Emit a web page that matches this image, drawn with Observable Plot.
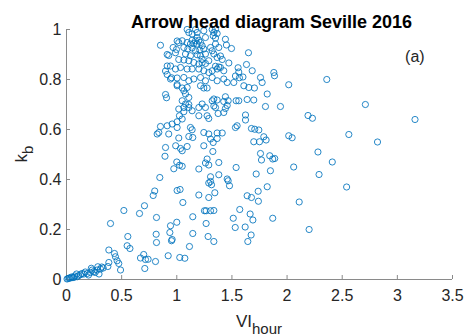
<!DOCTYPE html>
<html>
<head>
<meta charset="utf-8">
<script src="https://cdn.jsdelivr.net/npm/d3@7"></script>
<script src="https://cdn.jsdelivr.net/npm/@observablehq/plot@0.6"></script>
<style>
  html, body { margin: 0; padding: 0; background: #fff; }
  #chart { width: 466px; height: 336px; }
</style>
</head>
<body>
<div id="chart"></div>
<script>
// Hourly variability index (VI_hour) against the arrow-head parameter k_b, Seville 2016.
// Each group is a list of [VI_hour, k_b] pairs.
const originCluster = [
  [0.005,0.002],[0.015,0.004],[0.025,0.006],[0.036,0.006],[0.045,0.01],[0.055,0.008],[0.066,0.008],
  [0.075,0.014],[0.091,0.022],[0.097,0.011],[0.11,0.016],[0.127,0.019],[0.14,0.024],[0.157,0.022],
  [0.17,0.03],[0.188,0.024],[0.2,0.018],[0.218,0.028],[0.225,0.045],[0.233,0.038],[0.248,0.032],
  [0.26,0.028],[0.278,0.038],[0.284,0.051],[0.295,0.022],[0.308,0.042],[0.32,0.05],[0.333,0.046],
  [0.375,0.052],[0.384,0.068],[0.384,0.118],[0.435,0.104],[0.444,0.091],[0.459,0.075],[0.474,0.064],
  [0.49,0.038]
];

const lowBand = [
  [0.399,0.224],[0.52,0.276],[0.556,0.172],[0.55,0.135],[0.575,0.124],[0.662,0.264],[0.707,0.295],
  [0.671,0.086],[0.70,0.10],[0.716,0.08],[0.74,0.081],[0.71,0.044],[0.807,0.072],[0.816,0.248],
  [0.813,0.181],[0.816,0.148],[0.786,0.336],[0.80,0.354],[0.922,0.095],[0.943,0.215],[0.937,0.188],
  [0.952,0.155],[0.958,0.16],[1.0,0.229],[1.027,0.088],[1.073,0.085],[1.003,0.356],[1.03,0.36],
  [1.055,0.308],[1.115,0.132],[1.145,0.184],[1.145,0.251],[1.2,0.338],[1.251,0.275],[1.266,0.275],
  [1.306,0.275],[1.336,0.276],[1.29,0.328],[1.266,0.224],[1.284,0.172],[1.336,0.152],[1.345,0.347],
  [1.29,0.386],[1.315,0.379],[1.478,0.375],[1.466,0.395],[1.512,0.245],[1.53,0.208],[1.571,0.28],
  [1.62,0.21],[1.638,0.335],[1.665,0.262],[1.69,0.238],[1.674,0.178],[1.644,0.152],[1.677,0.328],
  [1.74,0.313],[1.738,0.353],[1.82,0.371],[1.87,0.245],[2.11,0.31],[2.2,0.2],[2.54,0.37]
];

const midBand = [
  [0.846,0.408],[0.822,0.582],[0.837,0.588],[0.852,0.612],[0.893,0.493],[0.898,0.528],[0.913,0.615],
  [0.927,0.582],[0.958,0.622],[0.973,0.443],[0.99,0.535],[1.0,0.47],[1.003,0.608],[1.003,0.631],
  [1.018,0.566],[1.018,0.682],[1.024,0.655],[1.025,0.457],[1.034,0.524],[1.049,0.453],[1.049,0.515],
  [1.049,0.642],[1.064,0.671],[1.094,0.532],[1.109,0.572],[1.109,0.688],[1.124,0.608],[1.139,0.599],
  [1.139,0.675],[1.145,0.568],[1.2,0.442],[1.2,0.655],[1.2,0.688],[1.245,0.535],[1.245,0.588],
  [1.26,0.466],[1.26,0.688],[1.275,0.482],[1.275,0.655],[1.29,0.458],[1.29,0.582],[1.29,0.644],
  [1.306,0.392],[1.306,0.411],[1.306,0.562],[1.327,0.512],[1.33,0.548],[1.351,0.688],[1.366,0.564],
  [1.366,0.586],[1.375,0.664],[1.381,0.419],[1.381,0.468],[1.412,0.586],[1.426,0.668],[1.441,0.684],
  [1.457,0.402],[1.532,0.608],[1.538,0.448],[1.547,0.615],[1.623,0.638],[1.623,0.658],[1.677,0.604],
  [1.698,0.551],[1.707,0.601],[1.72,0.422],[1.744,0.598],[1.75,0.551],[1.759,0.504],[1.768,0.478],
  [1.789,0.571],[1.804,0.692],[1.81,0.558],[1.843,0.495],[1.849,0.435],[1.87,0.482],[1.888,0.484],
  [1.94,0.692],[2.015,0.575],[2.046,0.567],[2.06,0.45],[1.109,0.70],[1.064,0.688],[1.079,0.702],
  [1.23,0.702],[1.336,0.694],[1.457,0.696]
];

const upperCluster = [
  [0.852,0.937],[0.913,0.9],[0.927,0.896],[0.967,0.928],[1.003,0.954],[0.997,0.92],[0.988,0.907],
  [0.943,0.854],[0.913,0.854],[0.898,0.834],[0.913,0.82],[0.952,0.807],[0.988,0.842],[1.003,0.78],
  [0.898,0.74],[0.907,0.727],[1.018,0.88],[1.018,0.948],[1.049,0.955],[1.094,1.0],[1.109,0.988],
  [1.139,0.982],[1.17,1.0],[1.185,0.988],[1.245,0.995],[1.321,1.0],[1.351,1.0],[1.336,0.988],
  [1.366,0.984],[1.33,0.975],[1.351,0.966],[1.26,0.968],[1.185,0.968],[1.139,0.957],[1.17,0.955],
  [1.2,0.957],[1.094,0.948],[1.124,0.942],[1.154,0.944],[1.185,0.942],[1.215,0.948],[1.23,0.935],
  [1.064,0.928],[1.1,0.922],[1.139,0.926],[1.17,0.915],[1.209,0.918],[1.245,0.922],[1.079,0.902],
  [1.124,0.895],[1.185,0.899],[1.215,0.895],[1.26,0.902],[1.351,0.942],[1.381,0.928],[1.441,0.961],
  [1.45,0.938],[1.496,0.924],[1.306,0.928],[1.321,0.915],[1.336,0.902],[1.366,0.888],[1.396,0.894],
  [1.412,0.88],[1.65,0.907],[1.064,0.878],[1.109,0.875],[1.154,0.868],[1.2,0.862],[1.23,0.88],
  [1.23,0.867],[1.26,0.864],[1.29,0.875],[1.351,0.853],[1.381,0.85],[1.472,0.866],[1.632,0.86],
  [1.684,0.835],[1.034,0.848],[1.094,0.842],[1.139,0.842],[1.2,0.842],[1.245,0.835],[1.29,0.828],
  [1.321,0.835],[1.366,0.842],[1.396,0.848],[1.426,0.835],[1.556,0.847],[1.562,0.83],[1.88,0.828],
  [1.886,0.815],[0.943,0.802],[1.003,0.806],[1.064,0.808],[1.109,0.795],[1.154,0.802],[1.215,0.808],
  [1.26,0.795],[1.321,0.808],[1.366,0.795],[1.426,0.802],[1.457,0.788],[1.517,0.788],[1.532,0.814],
  [1.568,0.807],[1.6,0.81],[1.608,0.775],[1.653,0.768],[1.704,0.766],[1.759,0.808],[1.774,0.788],
  [2.015,0.779],[1.003,0.775],[1.049,0.766],[1.094,0.768],[1.215,0.775],[1.245,0.766],[1.275,0.766],
  [1.064,0.755],[1.079,0.742],[1.109,0.728],[1.321,0.715],[1.336,0.722],[1.366,0.718],[1.426,0.712],
  [1.049,0.715],[1.82,0.742],[1.538,0.715],[1.562,0.715],[1.441,0.731],[1.466,0.715],[1.638,0.72],
  [1.698,0.718]
];

const outliers = [
  [2.19,0.656],[2.23,0.645],[2.36,0.80],[2.71,0.70],[3.16,0.64],[2.56,0.58],[2.82,0.55],
  [2.28,0.51],[2.41,0.47],[2.29,0.42]
];

const xTicks = [0, 0.5, 1, 1.5, 2, 2.5, 3, 3.5];
const xTickLabels = ["0", "0.5", "1", "1.5", "2", "2.5", "3", "3.5"];
const yTicks = [0, 0.2, 0.4, 0.6, 0.8, 1];
const yTickLabels = ["0", "0.2", "0.4", "0.6", "0.8", "1"];

const titleText = "Arrow head diagram Seville 2016";
const panelTag = [{vi: 3.07, kb: 0.89, label: "(a)"}];

const points = [...originCluster, ...lowBand, ...midBand, ...upperCluster, ...outliers]
  .map(([vi, kb]) => ({vi, kb}));

const axisColor = "#8a8a8a";
const textColor = "#262626";
const markerColor = "#0072BD";
const fontStack = "'Liberation Sans', Arial, sans-serif";

const chart = Plot.plot({
  width: 466,
  height: 336,
  marginLeft: 66,
  marginRight: 14,
  marginTop: 29,
  marginBottom: 57,
  style: {
    fontFamily: fontStack,
    fontSize: "16px",
    color: textColor,
    background: "#fff",
    overflow: "visible"
  },
  x: {domain: [0, 3.5]},
  y: {domain: [0, 1]},
  marks: [
    Plot.ruleY([0], {stroke: axisColor, strokeWidth: 1}),
    Plot.ruleX([0], {stroke: axisColor, strokeWidth: 1}),
    Plot.axisX({
      ticks: xTicks,
      tickFormat: d => xTickLabels[xTicks.indexOf(d)],
      tickSize: -4,
      tickPadding: 14,
      stroke: axisColor,
      fill: textColor,
      fontSize: 16,
      label: null
    }),
    Plot.axisY({
      ticks: yTicks,
      tickFormat: d => yTickLabels[yTicks.indexOf(d)],
      tickSize: -4,
      tickPadding: 9,
      stroke: axisColor,
      fill: textColor,
      fontSize: 16,
      label: null
    }),
    Plot.dot(points, {
      x: "vi",
      y: "kb",
      r: 3.1,
      stroke: markerColor,
      strokeWidth: 0.85,
      fill: "none"
    }),
    Plot.text(panelTag, {
      x: "vi",
      y: "kb",
      text: "label",
      textAnchor: "start",
      fontSize: 16,
      fill: textColor
    }),
    Plot.text([titleText], {
      frameAnchor: "top",
      dy: -14,
      dx: 12,
      text: d => d,
      fontWeight: "bold",
      fontSize: 18,
      fill: "#000"
    })
  ]
});

document.getElementById("chart").appendChild(chart);

// Axis titles with subscripts
const svg = d3.select(chart);
const xLabel = svg.append("text")
  .attr("x", 259)
  .attr("y", 327)
  .attr("text-anchor", "middle")
  .attr("fill", textColor)
  .attr("font-family", fontStack);
xLabel.append("tspan").attr("font-size", 17).text("VI");
xLabel.append("tspan").attr("font-size", 15).attr("dy", 7).text("hour");

const yLabel = svg.append("text")
  .attr("transform", "translate(27,154) rotate(-90)")
  .attr("text-anchor", "middle")
  .attr("fill", textColor)
  .attr("font-family", fontStack);
yLabel.append("tspan").attr("font-size", 17).text("k");
yLabel.append("tspan").attr("font-size", 15).attr("dy", 6).text("b");
</script>
</body>
</html>
